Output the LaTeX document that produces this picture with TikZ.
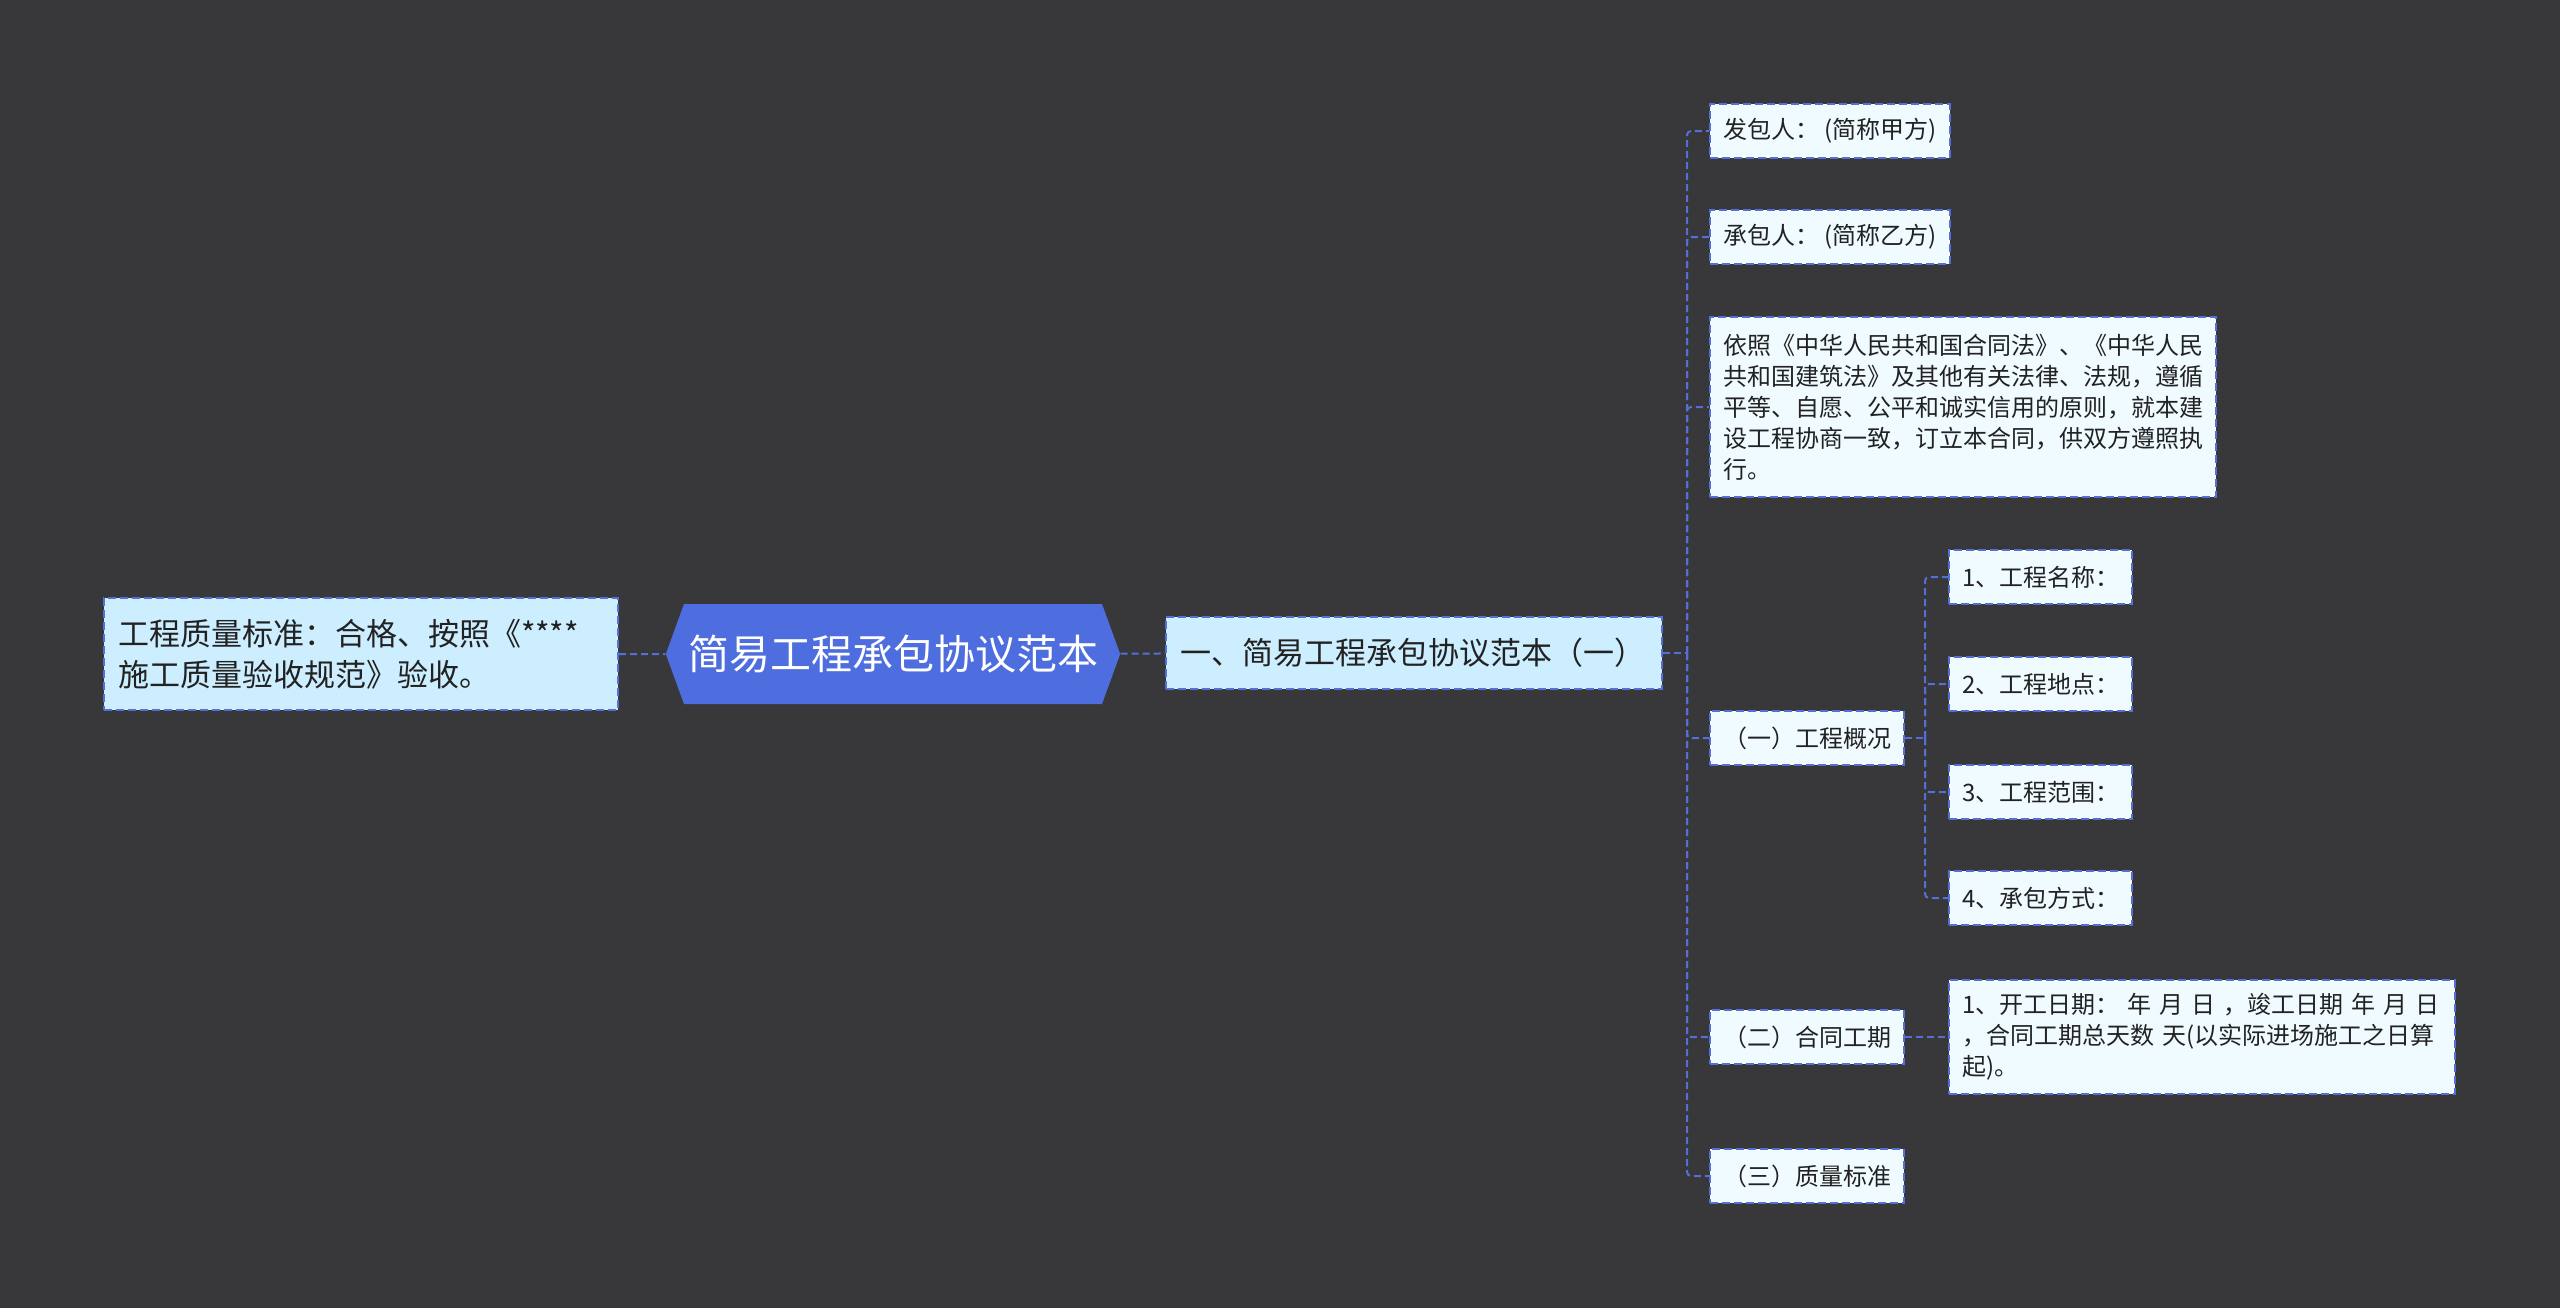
\documentclass[tikz,border=0pt]{standalone}
\usepackage{fontspec}
\setmainfont{Noto Sans CJK SC}
\usetikzlibrary{shapes.symbols}
\definecolor{BgGray}{RGB}{56,55,57}
\definecolor{RootBlue}{RGB}{78,110,224}
\definecolor{LineBlue}{RGB}{84,112,216}
\definecolor{SoftCyan}{RGB}{204,238,255}
\definecolor{PaleCyan}{RGB}{240,251,255}
\definecolor{InkGray}{RGB}{34,34,34}

\begin{document}
\begin{tikzpicture}[x=0.5pt,y=-0.5pt,
 box/.style={draw=LineBlue,line width=1pt,dash pattern=on 4pt off 2pt,text=InkGray,align=left},
 topbox/.style={box,fill=SoftCyan,font=\fontsize{15.5}{20.5}\selectfont,inner xsep=7pt},
 leafbox/.style={box,fill=PaleCyan,font=\fontsize{12}{15.5}\selectfont,inner xsep=6.5pt,minimum height=27pt},
 link/.style={LineBlue,line width=1pt,dash pattern=on 3.5pt off 2pt,rounded corners=2pt}]
\fill[BgGray] (0,0) rectangle (2560,1308);
% left side and root
\node[topbox,text width=243pt,minimum height=56pt] (qual) at (361,654) {工程质量标准：合格、按照《****\\施工质量验收规范》验收。};
\node[signal,signal to=west and east,signal pointer angle=140,fill=RootBlue,text=white,font=\fontsize{20.5}{24}\selectfont,minimum height=50pt,inner xsep=2pt] (root) at (893,654) {简易工程承包协议范本};
\node[topbox,text width=234pt,minimum height=36pt] (main) at (1414,653) {一、简易工程承包协议范本（一）};
% first level
\node[leafbox,anchor=west] (jia) at (1709,131) {发包人： (简称甲方)};
\node[leafbox,anchor=west] (yi) at (1709,237) {承包人： (简称乙方)};
\node[leafbox,anchor=west,inner ysep=8.5pt] (basis) at (1709,407) {依照《中华人民共和国合同法》、《中华人民\\共和国建筑法》及其他有关法律、法规，遵循\\平等、自愿、公平和诚实信用的原则，就本建\\设工程协商一致，订立本合同，供双方遵照执\\行。};
\node[leafbox,anchor=west] (gaikuang) at (1709,738) {（一）工程概况};
\node[leafbox,anchor=west] (gongqi) at (1709,1037) {（二）合同工期};
\node[leafbox,anchor=west] (zhiliang) at (1709,1176) {（三）质量标准};
% second level
\node[leafbox,anchor=west] (mingcheng) at (1948,577) {1、工程名称：};
\node[leafbox,anchor=west] (didian) at (1948,684) {2、工程地点：};
\node[leafbox,anchor=west] (fanwei) at (1948,792) {3、工程范围：};
\node[leafbox,anchor=west] (fangshi) at (1948,898) {4、承包方式：};
\node[leafbox,anchor=west,text width=240pt,inner ysep=6.6pt] (riqi) at (1948,1037) {1、开工日期： 年 月 日 ，竣工日期 年 月 日\\，合同工期总天数 天(以实际进场施工之日算\\起)。};
% connectors
\coordinate (trunk) at (1687,653);
\coordinate (subtrunk) at (1925,738);
\draw[link] (qual) -- (root);
\draw[link] (root) -- (main);
\draw[link] (main.east) -- (trunk);
\foreach \c in {jia,yi,basis,gaikuang,gongqi,zhiliang}
  \draw[link] (trunk) |- (\c.west);
\draw[link] (gaikuang.east) -- (subtrunk);
\foreach \c in {mingcheng,didian,fanwei,fangshi}
  \draw[link] (subtrunk) |- (\c.west);
\draw[link] (gongqi) -- (riqi);
\end{tikzpicture}
\end{document}
